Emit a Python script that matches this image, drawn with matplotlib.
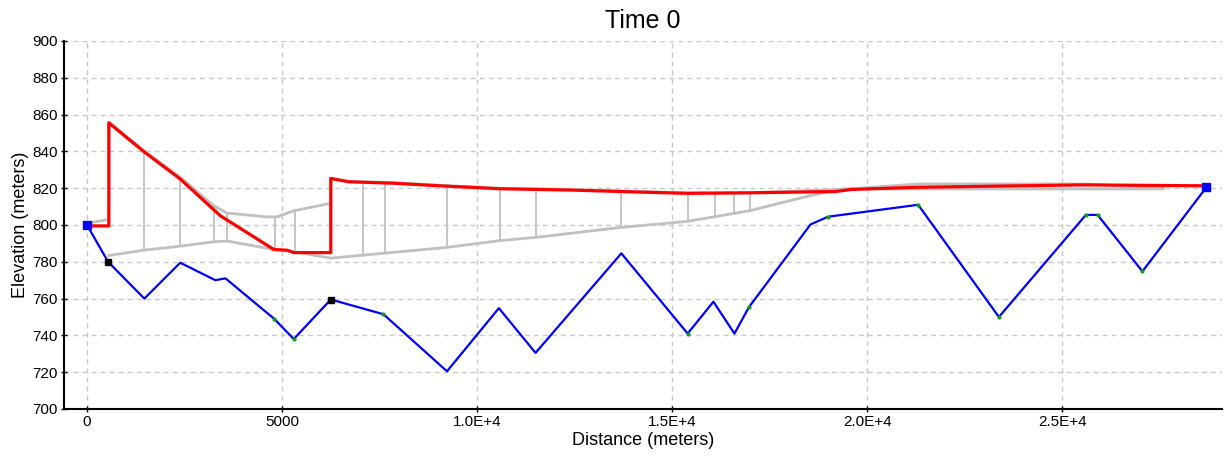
import numpy as np
import matplotlib
matplotlib.use('Agg')
import matplotlib.pyplot as plt

plt.rcParams['font.family'] = ['Liberation Sans', 'DejaVu Sans']

# bed profile (blue)
bed_x = [0, 540, 1470, 2390, 3290, 3550, 4800, 5300, 6250, 7600, 9230, 10560, 11500,
         13700, 15400, 16060, 16600, 16970, 18550, 19000, 21310, 23380, 25610, 25910,
         27060, 28700]
bed_y = [800, 780, 760, 779.5, 770, 771, 749, 738, 759.5, 751.5, 720.5, 754.8, 730.5,
         784.6, 741, 758.3, 741, 755.3, 800.3, 804.5, 811, 750, 805.5, 805.5, 774.8, 820.5]

# water surface (red)
ws_x = [0, 560, 560, 1450, 2390, 3420, 4790, 5130, 5300, 6250, 6250, 6700, 7850, 9040,
        10580, 12370, 14000, 15400, 17000, 19200, 19580, 21270, 25580, 28700]
ws_y = [799.5, 799.5, 855.5, 840, 825, 805, 786.7, 786.3, 785, 785, 825.3, 823.5, 822.7,
        821.3, 819.7, 819, 818, 817.2, 817.5, 818.2, 819.3, 820.5, 821.8, 821.3]

# gray envelope lines
up_x = [0, 560, 560, 1450, 2390, 3250, 3590, 3930, 4620, 4870, 5300, 6250, 6250, 6700,
        7850, 9040, 10580, 12370, 14000, 15400, 17000, 19500, 21300, 25600, 27600]
up_y = [801, 803, 856, 840.5, 826, 810.5, 806.5, 805.8, 804.4, 804.4, 807.7, 811.8, 825.3,
        823.8, 823, 821.6, 820, 819.3, 818.3, 817.5, 817.5, 819.5, 822.3, 822.3, 820]
lo_x = [560, 1450, 2390, 3250, 3590, 4790, 5300, 6250, 7080, 9215, 10580, 11520, 13700,
        15400, 17000, 18550, 19400, 27600]
lo_y = [783.4, 786.3, 788.5, 790.9, 791.3, 786.7, 785.5, 782, 783.6, 787.8, 791.5, 793.3,
        798.7, 802, 807.8, 816, 819.6, 819.6]
sec_x = [1450, 2390, 3250, 3590, 4830, 5340, 7080, 7640, 9230, 10580, 11500, 13700,
         15400, 16090, 16600, 17000]

# node markers
blk_x = [540, 6250]
blk_y = [780, 759.5]
grn_x = [4800, 5300, 7600, 15400, 16970, 19000, 21310, 23380, 25610, 25910, 27060]
grn_y = [749, 738, 751.5, 741, 755.3, 804.5, 811, 750, 805.5, 805.5, 774.8]

xticks = [0, 5000, 10000, 15000, 20000, 25000]
xlabels = ['0', '5000', '1.0E+4', '1.5E+4', '2.0E+4', '2.5E+4']
yticks = list(range(700, 901, 20))

fig = plt.figure(figsize=(12.24, 4.59), dpi=100)
ax = fig.add_axes([64/1224, 1-409/459, (1222-64)/1224, (409-41)/459])

gray = '#c0c0c0'
sec_top = np.interp(sec_x, up_x[3:], up_y[3:])
sec_bot = np.interp(sec_x, lo_x, lo_y)
ax.vlines(sec_x, sec_bot, sec_top, color=gray, lw=1.3, zorder=2)
ax.plot(up_x, up_y, color=gray, lw=2, zorder=2)
ax.plot(lo_x, lo_y, color=gray, lw=2, zorder=2)

ax.plot(ws_x, ws_y, color='#ff0000', lw=2.3, zorder=3)
ax.plot(bed_x, bed_y, color='#0000ff', lw=1.6, zorder=4)
ax.plot([bed_x[0], bed_x[-1]], [bed_y[0], bed_y[-1]], ls='none', marker='s', ms=6,
        color='#0000ff', zorder=5)
ax.plot(blk_x, blk_y, ls='none', marker='s', ms=5, color='black', zorder=5)
ax.plot(grn_x, grn_y, ls='none', marker='o', ms=2, color='#10a010', zorder=5)

ax.set_xlim(-590, 29100)
ax.set_ylim(700, 900)
ax.set_xticks(xticks)
ax.set_xticklabels(xlabels)
ax.set_yticks(yticks)
ax.tick_params(direction='inout', length=5, width=1, labelsize=11, pad=2)
ax.grid(True, color='#c8c8c8', lw=1, linestyle=(0, (3.5, 3)))
ax.set_axisbelow(True)
for s in ['top', 'right']:
    ax.spines[s].set_visible(False)
for s in ['left', 'bottom']:
    ax.spines[s].set_linewidth(1.5)

ax.set_title('Time 0', fontsize=18, pad=9)
ax.set_xlabel('Distance (meters)', fontsize=13, labelpad=2)
ax.set_ylabel('Elevation (meters)', fontsize=13, labelpad=2)

fig.savefig('out.png', dpi=100, facecolor='white')
